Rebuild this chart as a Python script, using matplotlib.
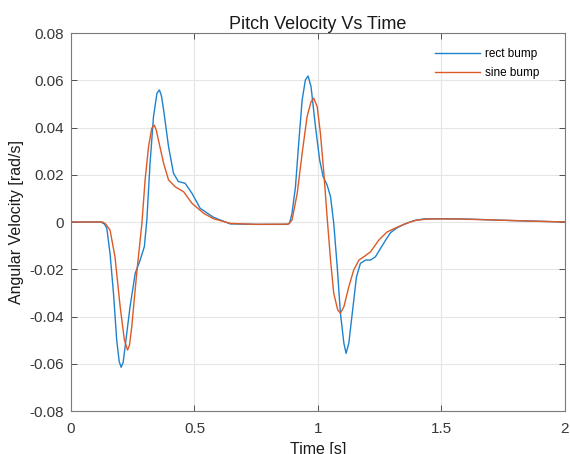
import matplotlib
matplotlib.use("Agg")
import matplotlib.pyplot as plt

# values
t_rect = [0, 0.12, 0.135, 0.145, 0.158, 0.172, 0.185, 0.195, 0.203, 0.211,
          0.219, 0.239, 0.260, 0.280, 0.297, 0.307, 0.320, 0.334, 0.348, 0.358,
          0.366, 0.375, 0.395, 0.415, 0.435, 0.462, 0.490, 0.523, 0.577, 0.645,
          0.75, 0.875, 0.885, 0.895, 0.909, 0.922, 0.936, 0.949, 0.960, 0.972,
          0.990, 1.007, 1.021, 1.037, 1.051, 1.064, 1.078, 1.091, 1.105, 1.114,
          1.125, 1.139, 1.156, 1.172, 1.193, 1.213, 1.233, 1.254, 1.275, 1.294,
          1.320, 1.348, 1.389, 1.429, 1.5, 1.565, 1.65, 1.727, 1.86, 2.0]
v_rect = [0, 0, -0.0008, -0.0027, -0.0133, -0.0302, -0.0499, -0.0590, -0.0615, -0.0595,
          -0.0528, -0.0359, -0.0217, -0.0161, -0.0104, 0.0008, 0.0248, 0.0446, 0.0545, 0.0559,
          0.0535, 0.0474, 0.0319, 0.0206, 0.0171, 0.0164, 0.0121, 0.0058, 0.0020, -0.0008,
          -0.0010, -0.0010, -0.0006, 0.0037, 0.0149, 0.0333, 0.0516, 0.0601, 0.0618, 0.0573,
          0.0403, 0.0262, 0.0192, 0.0157, 0.0107, -0.0006, -0.0189, -0.0386, -0.0513, -0.0556,
          -0.0513, -0.0386, -0.0232, -0.0175, -0.0161, -0.0161, -0.0147, -0.0111, -0.0075, -0.0045,
          -0.0025, -0.0010, 0.0006, 0.0013, 0.0014, 0.0013, 0.0011, 0.0008, 0.0004, 0.0]

t_sine = [0, 0.128, 0.140, 0.158, 0.178, 0.199, 0.216, 0.229, 0.237, 0.246,
          0.266, 0.287, 0.300, 0.314, 0.327, 0.337, 0.345, 0.354, 0.375, 0.395,
          0.422, 0.456, 0.490, 0.537, 0.577, 0.645, 0.75, 0.880, 0.895, 0.916,
          0.936, 0.956, 0.972, 0.983, 0.997, 1.010, 1.024, 1.037, 1.051, 1.064,
          1.080, 1.091, 1.105, 1.125, 1.145, 1.166, 1.186, 1.213, 1.247, 1.280,
          1.321, 1.36, 1.40, 1.45, 1.565, 1.727, 1.86, 2.0]
v_sine = [0, 0, -0.0008, -0.0034, -0.0147, -0.0359, -0.0499, -0.0542, -0.0520, -0.0443,
          -0.0217, -0.0006, 0.0178, 0.0319, 0.0397, 0.0410, 0.0390, 0.0347, 0.0248, 0.0178,
          0.0149, 0.0128, 0.0079, 0.0037, 0.0014, -0.0006, -0.0010, -0.0009, 0.0008, 0.0121,
          0.0291, 0.0446, 0.0509, 0.0524, 0.0488, 0.0375, 0.0206, 0.0022, -0.0161, -0.0302,
          -0.0372, -0.0386, -0.0359, -0.0274, -0.0203, -0.0161, -0.0147, -0.0126, -0.0076, -0.0042,
          -0.0022, -0.0005, 0.0008, 0.0013, 0.0013, 0.0008, 0.0004, 0.0]

x_ticks = [0, 0.5, 1, 1.5, 2]
y_ticks = [-0.08, -0.06, -0.04, -0.02, 0, 0.02, 0.04, 0.06, 0.08]
y_tick_labels = ['-0.08', '-0.06', '-0.04', '-0.02', '0', '0.02', '0.04', '0.06', '0.08']
x_tick_labels = ['0', '0.5', '1', '1.5', '2']

plt.rcParams['font.family'] = ['Liberation Sans', 'DejaVu Sans']

fig = plt.figure(figsize=(5.7, 4.54), dpi=100)
ax = fig.add_axes([0.1246, 0.0947, 0.8664, 0.8326])

ax.plot(t_rect, v_rect, color='#1f82cc', lw=1.0, label='rect bump')
ax.plot(t_sine, v_sine, color='#dc5a26', lw=1.0, label='sine bump')

ax.set_xlim(0, 2)
ax.set_ylim(-0.08, 0.08)
ax.set_xticks(x_ticks)
ax.set_xticklabels(x_tick_labels)
ax.set_yticks(y_ticks)
ax.set_yticklabels(y_tick_labels)
ax.grid(True, color='#e6e6e6', lw=0.8)
ax.set_axisbelow(True)
ax.tick_params(direction='in', top=True, right=True, length=4, width=0.6,
               colors='#383838', labelsize=11)
ax.tick_params(axis='x', pad=8)
ax.tick_params(axis='y', pad=5)
for s in ax.spines.values():
    s.set_color('#7a7a7a')
    s.set_linewidth(0.8)

ax.set_title('Pitch Velocity Vs Time', fontsize=13, color='#1a1a1a', pad=3)
ax.set_xlabel('Time [s]', fontsize=11.5, color='#1a1a1a', labelpad=4)
ax.set_ylabel('Angular Velocity [rad/s]', fontsize=11.5, color='#1a1a1a', labelpad=4)

leg = ax.legend(loc='upper right', bbox_to_anchor=(0.958, 0.972), borderaxespad=0,
                frameon=False, fontsize=8.5, handlelength=3.8,
                labelspacing=0.55, handletextpad=0.4)

fig.savefig('out.png', dpi=100)
